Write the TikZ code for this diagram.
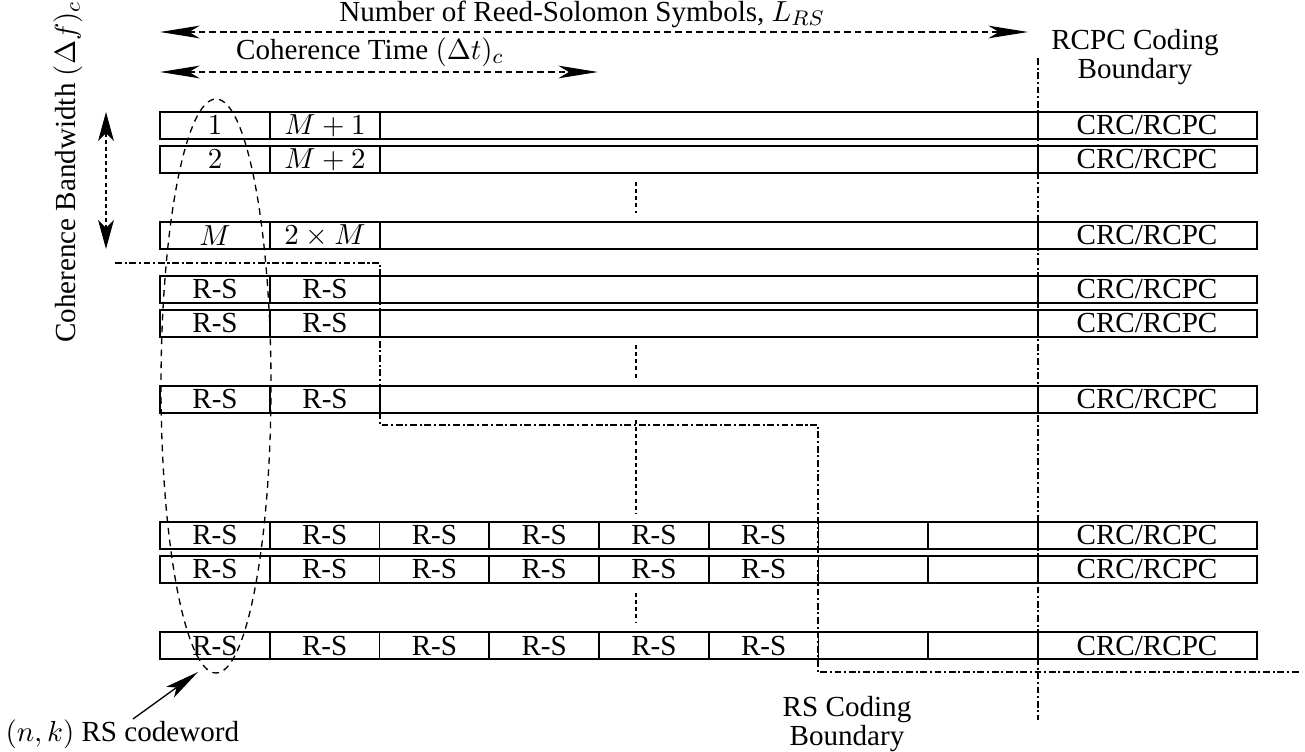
\documentclass[tikz,border=0pt]{standalone}
\usepackage{fontspec}
\setmainfont{Liberation Serif}
\usetikzlibrary{arrows.meta}
\begin{document}
\begin{tikzpicture}[x=0.378pt,y=-0.378pt,font=\fontsize{11}{9}\selectfont,
  cellrow/.style={draw,line width=0.6pt},
  boundary/.style={line width=1.1pt,dash pattern=on 2.6pt off 1pt on 0.8pt off 1pt},
  span/.style={line width=0.5pt,dash pattern=on 2.5pt off 1.5pt,
    {Stealth[length=15pt,width=4.8pt,inset=4pt]}-{Stealth[length=15pt,width=4.8pt,inset=4pt]}},
  vspan/.style={line width=0.5pt,dash pattern=on 1.5pt off 1.2pt,
    {Stealth[length=11pt,width=6pt,inset=3pt]}-{Stealth[length=11pt,width=6pt,inset=3pt]}},
  vdots/.style={line width=0.5pt,dash pattern=on 1.5pt off 1.2pt}]
  \useasboundingbox (0,0) rectangle (1305,751);
  \foreach \Y/\A/\B in {112/1/M+1,146/2/M+2,222/M/2\times M} {
    \draw[cellrow] (160,\Y) rectangle (1257,\Y+27);
    \foreach \X in {270,380,1038} \draw[cellrow] (\X,\Y) -- (\X,\Y+27);
    \node (first\Y) at (215,\Y+13.5) {$\A$};
    \node (second\Y) at (325,\Y+13.5) {$\B$};
    \node (crc\Y) at (1147,\Y+13.5) {CRC/RCPC};
  }
  \foreach \Y in {276,310,386} {
    \draw[cellrow] (160,\Y) rectangle (1257,\Y+27);
    \foreach \X in {270,380,1038} \draw[cellrow] (\X,\Y) -- (\X,\Y+27);
    \node (first\Y) at (215,\Y+13.5) {R-S};
    \node (second\Y) at (325,\Y+13.5) {R-S};
    \node (crc\Y) at (1147,\Y+13.5) {CRC/RCPC};
  }
  \foreach \Y in {522,556,632} {
    \draw[cellrow] (160,\Y) rectangle (1257,\Y+27);
    \foreach \i in {1,...,8} \draw[cellrow] (160+109.75*\i,\Y) -- (160+109.75*\i,\Y+27);
    \foreach \i in {0,...,5}
      \node (rs\Y-\i) at (160+109.75*\i+54.9,\Y+13.5) {R-S};
    \node (crc\Y) at (1147,\Y+13.5) {CRC/RCPC};
  }
  \foreach \A/\B in {182/213,345/378,420/513,593/623}
    \draw[vdots] (636,\A) -- (636,\B);
  \draw[boundary] (115,263) -- (380,263) -- (380,425) -- (818,425) -- (818,672) -- (1300,672);
  \draw[boundary] (1038,58) -- (1038,720);
  \draw[line width=0.5pt,dash pattern=on 2.5pt off 2pt] (216,386) ellipse [x radius=55, y radius=287];
  \coordinate (lrsL) at (160,32);
  \coordinate (lrsR) at (1028,32);
  \coordinate (cohL) at (160,72);
  \coordinate (cohR) at (598,72);
  \coordinate (bwT) at (106,112);
  \coordinate (bwB) at (106,249);
  \coordinate (cwtip) at (198,672);
  \draw[span] (lrsL) -- (lrsR);
  \draw[span] (cohL) -- (cohR);
  \draw[vspan] (bwT) -- (bwB);
  \node (lrs) at (582,14) {Number of Reed-Solomon Symbols, $L_{RS}$};
  \node (coh) at (370,52) {Coherence Time $(\Delta t)_c$};
  \node[rotate=90] (bw) at (68,172) {Coherence Bandwidth $(\Delta f)_c$};
  \node[align=center] (rcpc) at (1135,57) {RCPC Coding\\Boundary};
  \node[align=center] (rsb) at (847,724) {RS Coding\\Boundary};
  \node[anchor=west,inner sep=0pt] (cw) at (5,734) {$(n,k)$ RS codeword};
  \draw[line width=0.5pt,-{Stealth[length=13pt,width=5pt,inset=3pt]}] (cw.north west) ++(128,0) coordinate (cwtail) (cwtail) -- (cwtip);
\end{tikzpicture}
\end{document}
